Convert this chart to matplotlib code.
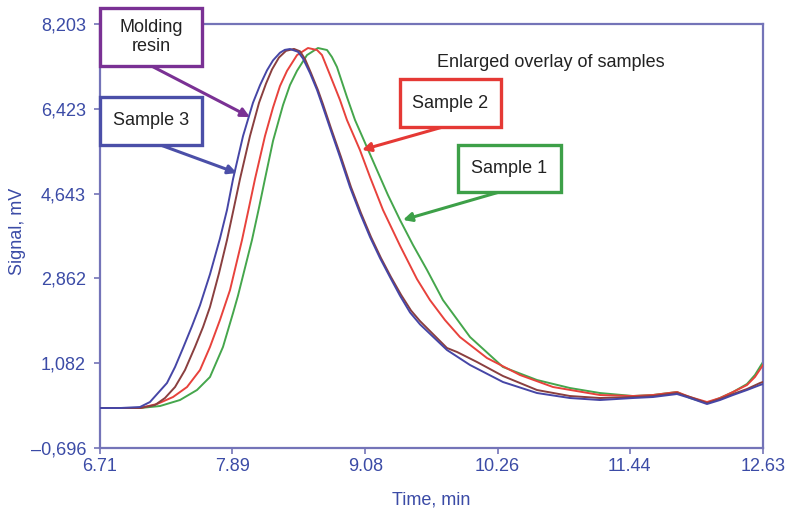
import matplotlib
matplotlib.use("Agg")
import matplotlib.pyplot as plt
from matplotlib.patches import Rectangle

plt.rcParams['font.family'] = ['Liberation Sans', 'DejaVu Sans']

# ---------------- data ----------------
x_ticks = [6.71, 7.89, 9.08, 10.26, 11.44, 12.63]
x_tick_labels = ['6.71', '7.89', '9.08', '10.26', '11.44', '12.63']
y_ticks = [-0.696, 1.082, 2.862, 4.643, 6.423, 8.203]
y_tick_labels = ['\u20130,696', '1,082', '2,862', '4,643', '6,423', '8,203']

s3_x = [6.710, 6.889, 7.067, 7.156, 7.228, 7.308, 7.380, 7.451, 7.531, 7.603, 7.692, 7.781,
        7.844, 7.898, 7.987, 8.076, 8.139, 8.201, 8.255, 8.317, 8.360, 8.406, 8.478, 8.522,
        8.585, 8.648, 8.692, 8.764, 8.853, 8.942, 9.031, 9.121, 9.210, 9.299, 9.389, 9.478,
        9.567, 9.808, 10.014, 10.308, 10.612, 10.906, 11.174, 11.469, 11.648, 11.862, 11.978,
        12.130, 12.246, 12.362, 12.487, 12.603, 12.630]
s3_y = [0.143, 0.143, 0.164, 0.269, 0.458, 0.668, 1.004, 1.400, 1.860, 2.300, 2.950, 3.700,
        4.300, 4.950, 5.850, 6.550, 6.920, 7.230, 7.440, 7.600, 7.660, 7.678, 7.620, 7.480,
        7.174, 6.817, 6.520, 6.020, 5.411, 4.781, 4.236, 3.732, 3.291, 2.893, 2.500, 2.150,
        1.900, 1.361, 1.046, 0.689, 0.458, 0.353, 0.311, 0.353, 0.374, 0.437, 0.353,
        0.227, 0.311, 0.416, 0.521, 0.626, 0.647]

resin_x = [6.710, 6.889, 7.067, 7.201, 7.290, 7.380, 7.469, 7.558, 7.630, 7.692, 7.773, 7.844,
           7.906, 7.960, 8.049, 8.130, 8.192, 8.246, 8.308, 8.371, 8.442, 8.496, 8.540, 8.594,
           8.656, 8.701, 8.772, 8.862, 8.951, 9.040, 9.130, 9.219, 9.308, 9.398, 9.487, 9.567,
           9.808, 9.898, 10.076, 10.308, 10.612, 10.906, 11.174, 11.469, 11.648, 11.862, 11.978,
           12.130, 12.246, 12.362, 12.487, 12.603, 12.630]
resin_y = [0.143, 0.143, 0.143, 0.206, 0.353, 0.584, 0.941, 1.424, 1.843, 2.263, 2.977, 3.669,
           4.350, 4.950, 5.850, 6.550, 6.950, 7.250, 7.500, 7.640, 7.680, 7.630, 7.470, 7.174,
           6.817, 6.520, 6.020, 5.411, 4.781, 4.236, 3.732, 3.291, 2.893, 2.520, 2.190, 1.969,
           1.403, 1.319, 1.109, 0.815, 0.521, 0.395, 0.353, 0.374, 0.395, 0.458, 0.374,
           0.248, 0.332, 0.437, 0.542, 0.668, 0.690]

s2_x = [6.710, 6.889, 7.067, 7.219, 7.362, 7.487, 7.603, 7.692, 7.781, 7.871, 7.978, 8.040,
        8.094, 8.183, 8.255, 8.317, 8.380, 8.469, 8.567, 8.648, 8.692, 8.764, 8.853, 8.915,
        9.031, 9.121, 9.237, 9.389, 9.540, 9.656, 9.790, 9.924, 10.165, 10.460, 10.755,
        11.174, 11.469, 11.648, 11.862, 11.978, 12.130, 12.246, 12.362, 12.487, 12.558, 12.630]
s2_y = [0.143, 0.143, 0.143, 0.227, 0.374, 0.584, 0.941, 1.424, 1.990, 2.620, 3.669, 4.350,
        4.950, 5.850, 6.450, 6.900, 7.220, 7.550, 7.699, 7.657, 7.552, 7.132, 6.607, 6.188,
        5.558, 4.991, 4.299, 3.550, 2.850, 2.410, 1.990, 1.633, 1.193, 0.836, 0.584,
        0.416, 0.395, 0.416, 0.479, 0.374, 0.269, 0.353, 0.479, 0.626, 0.794, 1.046]

s1_x = [6.710, 6.889, 7.067, 7.246, 7.424, 7.576, 7.692, 7.808, 7.898, 7.942, 8.067, 8.130,
        8.183, 8.255, 8.344, 8.406, 8.469, 8.558, 8.656, 8.737, 8.781, 8.826, 8.915, 8.987,
        9.085, 9.183, 9.281, 9.389, 9.505, 9.630, 9.772, 10.014, 10.308, 10.612, 10.906,
        11.174, 11.469, 11.648, 11.862, 11.978, 12.130, 12.246, 12.362, 12.487, 12.558, 12.630]
s1_y = [0.143, 0.143, 0.143, 0.185, 0.311, 0.521, 0.794, 1.424, 2.137, 2.500, 3.669, 4.350,
        4.950, 5.750, 6.500, 6.920, 7.220, 7.550, 7.699, 7.657, 7.510, 7.300, 6.670, 6.188,
        5.663, 5.138, 4.614, 4.089, 3.564, 3.040, 2.410, 1.633, 1.004, 0.731, 0.563,
        0.458, 0.395, 0.416, 0.479, 0.353, 0.248, 0.353, 0.479, 0.647, 0.836, 1.109]

# ---------------- style ----------------
axis_blue = '#3B4BA6'
frame_col = '#7474B8'
c_s3 = '#4646A6'
c_resin = '#8A3F3F'
c_s2 = '#E8423C'
c_s1 = '#45A64C'
c_box_resin = '#7A3194'
c_box_s3 = '#4B4FA8'
c_box_s2 = '#E53935'
c_box_s1 = '#3DA048'

fig = plt.figure(figsize=(7.87, 5.08), dpi=100)
ax = fig.add_axes([100 / 787, 60 / 508, 663 / 787, 424 / 508])

ax.plot(s1_x, s1_y, color=c_s1, lw=1.4, zorder=2)
ax.plot(s2_x, s2_y, color=c_s2, lw=1.4, zorder=3)
ax.plot(resin_x, resin_y, color=c_resin, lw=1.4, zorder=4)
ax.plot(s3_x, s3_y, color=c_s3, lw=1.4, zorder=5)

ax.set_xlim(6.71, 12.63)
ax.set_ylim(-0.696, 8.203)
ax.set_xticks(x_ticks)
ax.set_xticklabels(x_tick_labels)
ax.set_yticks(y_ticks)
ax.set_yticklabels(y_tick_labels)
ax.tick_params(axis='both', colors=frame_col, labelcolor=axis_blue, labelsize=13,
               length=4, width=1.2, direction='out')
ax.tick_params(axis='y', pad=6)
ax.tick_params(axis='x', pad=3)
for sp in ax.spines.values():
    sp.set_color(frame_col)
    sp.set_linewidth(1.6)

ax.set_xlabel('Time, min', color=axis_blue, fontsize=13, labelpad=12)
ax.set_ylabel('Signal, mV', color=axis_blue, fontsize=13)
ax.yaxis.set_label_coords(-0.1116, 0.51)

ax.text(0.508, 0.910, 'Enlarged overlay of samples', transform=ax.transAxes,
        fontsize=13, color='#222222', ha='left', va='center')

# boxes: (x0, y0, x1, y1) in axes fraction
boxes = [
    ('Molding\nresin', (0.0, 0.901, 0.154, 1.038), c_box_resin),
    ('Sample 3', (0.0, 0.715, 0.154, 0.828), c_box_s3),
    ('Sample 2', (0.4525, 0.757, 0.605, 0.870), c_box_s2),
    ('Sample 1', (0.540, 0.604, 0.695, 0.715), c_box_s1),
]
for label, (x0, y0, x1, y1), col in boxes:
    r = Rectangle((x0, y0), x1 - x0, y1 - y0, transform=ax.transAxes, fill=True,
                  facecolor='white', edgecolor=col, lw=2.4, clip_on=False, zorder=10)
    ax.add_patch(r)
    ax.text((x0 + x1) / 2, (y0 + y1) / 2, label, transform=ax.transAxes,
            ha='center', va='center', fontsize=13, color='#222222',
            linespacing=1.1, zorder=11, clip_on=False)

arrows = [
    ((8.049, 6.25), (0.080, 0.899), c_box_resin),
    ((7.933, 5.075), (0.0905, 0.715), c_box_s3),
    ((9.049, 5.56), (0.517, 0.757), c_box_s2),
    ((9.415, 4.09), (0.603, 0.604), c_box_s1),
]
for tip, start, col in arrows:
    ax.annotate('', xy=tip, xycoords='data', xytext=start, textcoords='axes fraction',
                arrowprops=dict(arrowstyle='-|>', color=col, lw=2.2, mutation_scale=13,
                                shrinkA=0, shrinkB=0), zorder=9)

fig.savefig('out.png', dpi=100)
